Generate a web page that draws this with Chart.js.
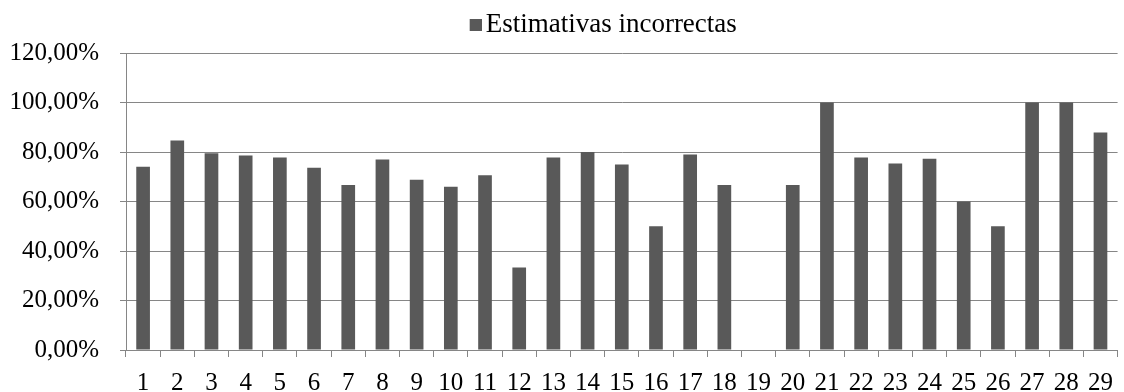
<!DOCTYPE html>
<html>
<head>
<meta charset="utf-8">
<script src="https://cdn.jsdelivr.net/npm/chart.js@4.4.1/dist/chart.umd.min.js"></script>
<style>
  html, body { margin: 0; padding: 0; background: #ffffff; }
  #wrap { width: 1124px; height: 392px; }
</style>
</head>
<body>
<div id="wrap"><canvas id="chart" width="1124" height="392"></canvas></div>
<script>
// Question numbers along the horizontal axis
const categories = ['1','2','3','4','5','6','7','8','9','10','11','12','13','14','15','16','17','18','19','20','21','22','23','24','25','26','27','28','29'];

// Share of incorrect estimates per question, in percent
const incorrectPct = [74.07, 84.62, 79.49, 78.57, 77.78, 73.68, 66.67, 76.92, 68.75, 65.96,
                      70.59, 33.33, 77.78, 80.00, 75.00, 50.00, 78.95, 66.67, 0, 66.67,
                      100, 77.78, 75.36, 77.27, 60.00, 50.00, 100, 100, 87.88];

const seriesName = 'Estimativas incorrectas';

// Value axis range and step, in percent
const yMin = 0;
const yMax = 120;
const yStep = 20;

const FONT = '"Liberation Serif", "Times New Roman", serif';
const GRID = '#868686';
const BAR = '#595959';

// Legend marker: a small square drawn close to the right edge so it sits
// tight against the label text
const marker = document.createElement('canvas');
marker.width = 31;
marker.height = 12;
(function () {
  const c = marker.getContext('2d');
  c.fillStyle = BAR;
  c.fillRect(19, 0, 12, 12);
})();

// Nudge the legend after layout
const legendShift = {
  id: 'legendShift',
  afterLayout(chart) {
    const lg = chart.legend;
    if (lg) {
      lg.left += 37; lg.right += 37;
      lg.top -= 5; lg.bottom -= 5;
    }
  }
};

new Chart(document.getElementById('chart'), {
  type: 'bar',
  data: {
    labels: categories,
    datasets: [{
      label: seriesName,
      data: incorrectPct,
      backgroundColor: BAR,
      borderWidth: 0,
      categoryPercentage: 1.0,
      barPercentage: 0.4,
      pointStyle: marker
    }]
  },
  options: {
    responsive: false,
    animation: false,
    devicePixelRatio: 1,
    layout: { padding: { left: 0, right: 1, top: 6, bottom: 0 } },
    plugins: {
      legend: {
        display: true,
        position: 'top',
        labels: {
          usePointStyle: true,
          boxWidth: 12,
          boxHeight: 12,
          padding: 10,
          color: '#000000',
          font: { family: FONT, size: 27 }
        }
      },
      tooltip: { enabled: false }
    },
    scales: {
      x: {
        grid: {
          offset: true,
          drawOnChartArea: false,
          drawTicks: true,
          tickLength: 7,
          color: GRID
        },
        border: { display: true, color: GRID, width: 1 },
        ticks: {
          color: '#000000',
          font: { family: FONT, size: 25 },
          padding: 11,
          maxRotation: 0,
          autoSkip: false
        },
        afterFit(scale) { scale.height = 42; }
      },
      y: {
        min: yMin,
        max: yMax,
        grid: {
          color: GRID,
          lineWidth: 1,
          drawTicks: true,
          tickLength: 6
        },
        border: { display: true, color: GRID, width: 1 },
        ticks: {
          stepSize: yStep,
          color: '#000000',
          font: { family: FONT, size: 25 },
          padding: 21,
          callback: (v) => v.toFixed(2).replace('.', ',') + '%'
        },
        afterFit(scale) { scale.width = 126; }
      }
    }
  },
  plugins: [legendShift]
});
</script>
</body>
</html>
